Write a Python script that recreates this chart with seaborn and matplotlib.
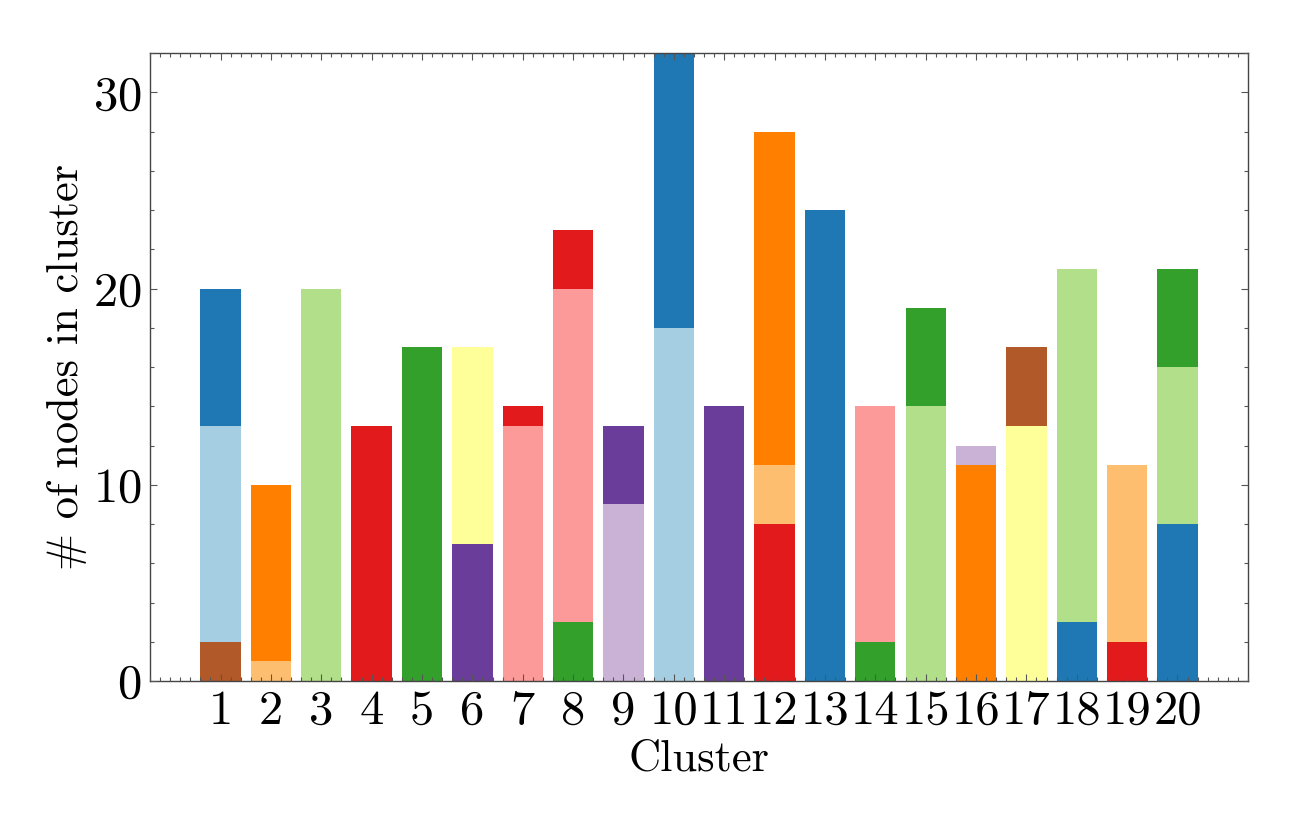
import numpy as np
import seaborn as sns
import matplotlib.pyplot as plt
from matplotlib.ticker import AutoMinorLocator, MultipleLocator

# clusters 1..20, stacked from bottom to top
clusters = list(range(1, 21))
# class index (Paired palette) of each layer, -1 = empty
bottom_class = [11, 6, 2, 5, 3, 9, 4, 3, 8, 0, 9, 5, 1, 3, 2, 7, 10, 1, 5, 1]
bottom_count = [2, 1, 20, 13, 17, 7, 13, 3, 9, 18, 14, 8, 24, 2, 14, 11, 13, 3, 2, 8]
middle_class = [0, 7, -1, -1, -1, 10, 5, 4, 9, 1, -1, 6, -1, 4, 3, 8, 11, 2, 6, 2]
middle_count = [11, 9, 0, 0, 0, 10, 1, 17, 4, 14, 0, 3, 0, 12, 5, 1, 4, 18, 9, 8]
top_class = [1, -1, -1, -1, -1, -1, -1, 5, -1, -1, -1, 7, -1, -1, -1, -1, -1, -1, -1, 3]
top_count = [7, 0, 0, 0, 0, 0, 0, 3, 0, 0, 0, 17, 0, 0, 0, 0, 0, 0, 0, 5]

sns.set_theme(style="ticks")
plt.rcParams['font.family'] = ['cmr10', 'DejaVu Serif']
plt.rcParams['axes.formatter.use_mathtext'] = True
plt.rcParams['mathtext.fontset'] = 'cm'
plt.rcParams['text.color'] = 'black'
plt.rcParams['axes.labelcolor'] = 'black'
plt.rcParams['xtick.labelcolor'] = 'black'
plt.rcParams['ytick.labelcolor'] = 'black'

pal = sns.color_palette("Paired", 12)

fig = plt.figure(figsize=(13, 8.3), dpi=100)
ax = fig.add_axes([0.1154, 0.1795, 0.8446, 0.7565])

base = np.zeros(len(clusters))
for cls, cnt in [(bottom_class, bottom_count), (middle_class, middle_count), (top_class, top_count)]:
    cols = [pal[c] if c >= 0 else (1, 1, 1, 0) for c in cls]
    ax.bar(clusters, cnt, bottom=base, width=0.8, color=cols, linewidth=0, zorder=1)
    base = base + np.array(cnt)

ax.set_xlim(-0.4, 21.4)
ax.set_ylim(0, 32)
ax.set_xticks(clusters)
ax.set_xticklabels([str(c) for c in clusters])
ax.xaxis.set_minor_locator(AutoMinorLocator(5))
ax.yaxis.set_major_locator(MultipleLocator(10))
ax.yaxis.set_minor_locator(MultipleLocator(2))
ax.tick_params(which='both', direction='in', top=True, right=True, color='#555555', width=0.8)
ax.tick_params(which='major', length=5, labelsize=35, pad=6)
ax.tick_params(which='minor', length=3)
for s in ax.spines.values():
    s.set_color('#444444')
    s.set_linewidth(1.0)
ax.set_axisbelow(False)

ax.set_xlabel("Cluster", fontsize=32, labelpad=4)
ax.set_ylabel("# of nodes in cluster", fontsize=32, labelpad=4)

plt.savefig("out.png", dpi=100)
